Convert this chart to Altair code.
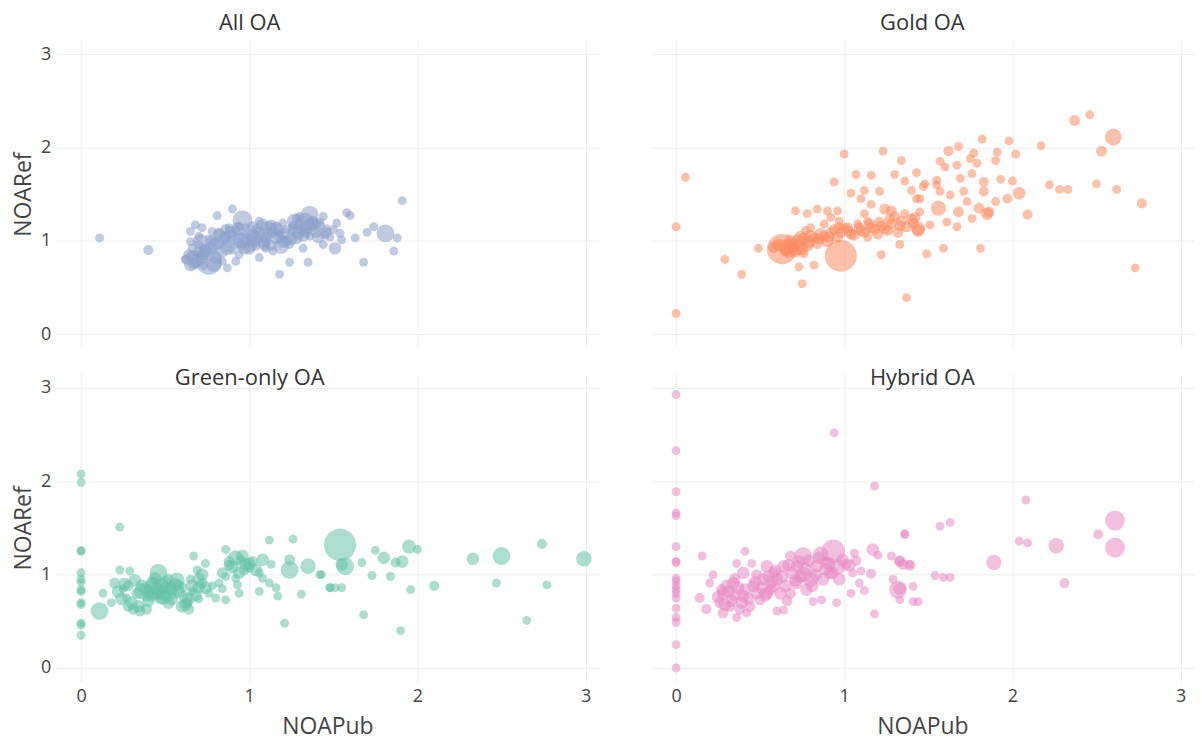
import altair as alt
import pandas as pd

# ---------------- data (NOAPub, NOARef, weight) ----------------
all_x = [0.11, 0.40, 0.81, 0.90, 0.68, 0.72, 0.65, 0.65, 0.64, 0.68, 0.76, 0.87, 0.96, 1.18, 1.24, 1.35, 1.68, 1.86, 1.88, 1.81,
         1.74, 1.70, 1.63, 1.58, 1.60, 1.91, 1.51, 1.55, 1.52, 1.44, 1.36, 1.28, 1.26, 1.32, 1.40, 1.44, 1.32, 1.20, 1.16, 1.08,
         1.02, 1.08, 1.14, 1.06, 1.00, 0.94, 0.88, 0.82, 0.88, 0.79, 0.74, 0.70, 0.72, 0.80, 0.92, 0.98, 1.20, 1.48, 1.40, 1.24,
         1.12, 0.97, 0.84, 0.66, 0.67, 1.06, 1.16, 1.28, 1.34, 1.46, 1.33, 0.86, 0.92, 0.95, 1.04, 1.10, 1.13, 1.18, 1.22, 1.30,
         1.36, 1.38, 1.42, 1.45, 0.78, 0.76, 0.70, 0.90, 1.00, 1.04, 1.10, 0.84, 0.73, 0.69, 0.62, 1.50, 1.54, 1.30, 1.26, 1.02,
         0.94,
         0.63, 0.66, 0.70, 0.74, 0.78, 0.82, 0.86, 0.90, 0.94, 0.98, 1.02, 1.06, 1.10, 1.14, 1.18, 1.22, 1.26, 1.30, 1.34, 1.38,
         1.42, 1.46, 0.65, 0.69, 0.73, 0.77, 0.81, 0.85, 0.89, 0.93, 0.97, 1.01, 1.05, 1.09, 1.13, 1.17, 1.21, 1.25, 1.29, 1.33,
         1.37, 1.41, 0.71, 0.79, 0.87, 0.95, 1.03, 1.11, 1.19, 1.27]
all_y = [1.03, 0.90, 1.27, 1.34, 1.17, 1.14, 1.10, 0.99, 0.85, 0.76, 0.78, 0.71, 1.22, 0.64, 0.77, 0.77, 0.77, 0.89, 1.03, 1.08,
         1.15, 1.09, 1.03, 1.30, 1.27, 1.43, 0.92, 1.01, 1.19, 1.26, 1.28, 1.24, 1.10, 1.06, 1.10, 0.96, 0.92, 0.99, 1.14, 1.17,
         1.06, 0.99, 0.89, 0.82, 0.92, 0.85, 0.99, 1.06, 1.14, 0.96, 0.89, 0.96, 0.82, 0.82, 0.78, 1.14, 1.19, 1.04, 1.19, 0.96,
         1.08, 1.03, 0.89, 0.92, 0.76, 1.21, 1.03, 1.03, 1.15, 1.13, 1.20, 1.05, 1.10, 0.95, 1.12, 1.04, 0.95, 1.08, 1.12, 1.12,
         1.05, 1.14, 1.20, 1.06, 1.10, 1.02, 1.05, 0.90, 0.98, 0.94, 0.92, 0.78, 0.73, 0.86, 0.80, 1.12, 1.08, 1.26, 1.17, 1.00,
         1.16,
         0.80, 0.84, 0.88, 0.92, 1.00, 1.08, 1.12, 1.06, 0.98, 1.07, 1.15, 1.10, 1.00, 1.10, 1.04, 1.00, 1.14, 1.18, 1.09, 1.21,
         1.16, 1.09, 0.74, 0.79, 0.86, 0.92, 0.97, 1.02, 1.09, 1.13, 0.92, 0.95, 1.04, 0.96, 1.16, 1.12, 1.07, 1.02, 1.08, 1.12,
         1.18, 1.04, 0.99, 0.75, 0.93, 1.00, 1.02, 1.13, 0.94, 1.21]
all_w = [1, 1.3, 1, 1, 1, 1, 1, 1, 1.5, 1.5, 9, 1, 5, 1, 1, 1, 1, 1, 1, 4,
         1, 1, 1, 1, 1, 1, 2, 1, 1, 1, 4, 1, 1, 2, 2, 1, 1, 2, 2, 2,
         2, 2, 1, 1, 2, 1, 2, 2, 1, 2, 2, 1, 2, 2, 1, 1, 1, 1, 1, 1,
         2, 2, 2, 1, 2, 1, 2, 2, 2, 1, 4.5, 1.5, 1.5, 1.5, 1.5, 1.5, 1.5, 1, 1, 1,
         1, 1, 1, 1, 1, 1, 1, 1, 1, 1, 1, 1, 1, 1, 1, 1, 1, 1, 1, 1,
         1,
         1.5, 1.5, 1.5, 1.5, 1.5, 1.5, 1.5, 1.5, 1.5, 1.5, 1.5, 1.5, 1.5, 1.5, 1.5, 1.5, 1.5, 1.5, 1.5, 1.5,
         1.5, 1.5, 2, 2, 2, 2, 2, 2, 2, 2, 2, 2, 2, 2, 2, 2, 2, 2, 2, 2,
         2, 2, 3, 3, 3, 3, 3, 3, 3, 3]

gold_x = [0.056, 0.0, 0.0, 0.29, 0.39, 0.49, 0.63, 0.98, 0.75, 0.73, 0.82, 0.71, 0.78, 0.84, 0.90, 0.96, 0.94, 1.00, 1.07, 1.16,
          1.04, 1.10, 1.12, 1.21, 1.23, 1.34, 1.30, 1.36, 1.43, 1.48, 1.40, 1.45, 1.24, 1.12, 1.16, 1.28, 1.36, 1.42, 1.33, 1.22,
          1.37, 1.44, 0.68, 0.74, 0.80, 0.86, 0.92, 0.98, 1.04, 1.10, 1.16, 1.22, 1.28, 1.34, 1.40, 0.66, 0.72, 0.78, 0.84, 0.90,
          0.96, 1.02, 1.08, 1.14, 1.20, 1.26, 1.32, 1.14, 0.88, 0.80, 0.97, 0.92, 0.58, 0.60, 0.76, 0.77, 2.37, 2.46, 2.60, 2.53,
          2.17, 1.98, 2.02, 1.82, 1.68, 1.62, 1.77, 1.75, 1.91, 1.90, 1.57, 1.60, 1.67, 1.79, 2.22, 2.28, 2.33, 2.50, 2.62, 2.77,
          2.73, 2.09, 2.04, 2.00, 1.97, 1.93, 1.83, 1.83, 1.85, 1.90, 1.76, 1.69, 1.55, 1.47, 1.57, 1.63, 1.71, 1.73, 1.56, 1.68,
          1.76, 1.67, 1.61, 1.51, 1.44, 1.49, 1.59, 1.81, 1.80, 1.86, 1.45, 1.43, 1.55,
          0.62, 0.65, 0.69, 0.70, 0.73, 0.76, 0.79, 0.82, 0.85, 0.88, 0.91, 0.94, 0.97, 1.00, 1.03, 1.06, 1.09, 1.12, 1.15, 1.18,
          1.21, 1.24, 1.27, 1.30, 1.33, 1.37, 1.41, 0.67, 0.71, 0.75]
gold_y = [1.68, 1.15, 0.22, 0.80, 0.64, 0.92, 0.91, 0.84, 0.54, 0.72, 0.74, 1.32, 1.29, 1.34, 1.32, 1.32, 1.63, 1.93, 1.71, 1.70,
          1.51, 1.45, 1.54, 1.53, 1.96, 1.86, 1.71, 1.64, 1.73, 1.61, 1.54, 1.45, 1.34, 1.29, 1.39, 1.32, 1.29, 1.25, 0.96, 0.85,
          0.39, 1.13, 1.00, 1.04, 1.05, 1.07, 1.09, 1.09, 1.07, 1.11, 1.14, 1.16, 1.18, 1.21, 1.23, 0.93, 0.93, 0.96, 0.98, 1.00,
          1.04, 1.14, 1.18, 1.04, 1.07, 1.11, 1.09, 1.21, 1.18, 1.14, 1.21, 1.25, 0.93, 0.96, 0.86, 1.11, 2.29, 2.35, 2.11, 1.96,
          2.02, 2.07, 1.93, 2.09, 2.01, 1.96, 1.94, 1.88, 1.95, 1.86, 1.85, 1.79, 1.81, 1.83, 1.60, 1.55, 1.55, 1.61, 1.55, 1.40,
          0.71, 1.28, 1.51, 1.64, 1.45, 1.66, 1.63, 1.53, 1.29, 1.42, 1.72, 1.67, 1.65, 1.58, 1.53, 1.49, 1.53, 1.42, 1.35, 1.31,
          1.24, 1.15, 1.20, 1.17, 1.11, 0.86, 0.92, 0.92, 1.35, 1.31, 1.31, 1.45, 1.60,
          0.95, 0.90, 0.97, 0.92, 1.00, 1.02, 0.99, 1.03, 1.02, 1.05, 1.04, 1.12, 1.14, 1.13, 1.10, 1.06, 1.14, 1.09, 1.18, 1.12,
          1.20, 1.13, 1.23, 1.26, 1.16, 1.15, 1.19, 0.88, 0.89, 0.91]
gold_w = [1, 1, 1, 1, 1, 1, 11.5, 13, 1, 1, 1, 1, 1, 1, 1, 1, 1, 1, 1, 1,
          1, 1, 1, 1, 1, 1, 1, 1, 1, 1, 1, 1, 1.5, 1, 1, 1.5, 1, 1.5, 1, 1,
          1, 2.5, 2, 2, 2, 2, 1.5, 1.5, 1.5, 1.5, 1.5, 1.5, 1.5, 1.5, 1.5, 3, 3, 2.5, 2, 2,
          1.5, 1.5, 1, 1, 1.5, 1.5, 1.5, 1, 1, 1, 1, 1, 1.5, 1.5, 1, 1, 1.5, 1, 3.5, 1.5,
          1, 1, 1, 1, 1, 1.3, 1, 1, 1, 1, 1, 1, 1, 1, 1, 1, 1, 1, 1, 1.3,
          1, 1.3, 2, 1, 1.3, 1, 1.3, 1.3, 2, 1, 1, 1, 1, 1, 1, 1, 1, 1, 3, 1.5,
          1, 1, 1, 1, 2, 1, 1, 1, 1.5, 1.5, 1, 1, 1,
          2, 2, 2, 2, 2, 2, 2, 1.5, 1.5, 1.5, 1.5, 1.5, 1.5, 1.5, 1.5, 1.5, 1.5, 1.5, 1.5, 1.5,
          1.5, 1.5, 1.5, 1.5, 1.5, 1.5, 1.5, 2, 2, 2]

green_x = [0, 0, 0, 0, 0, 0, 0, 0, 0, 0, 0, 0, 0, 0,
           0.23, 0.11, 0.13, 0.18, 0.20, 0.23, 0.29, 0.28, 0.31, 0.35, 0.39, 0.39, 0.36, 0.42, 0.46, 0.48, 0.44, 0.50, 0.54, 0.52,
           0.58, 0.61, 0.64, 0.63, 0.67, 0.69, 0.74, 0.72, 0.76, 0.80, 0.86, 0.82, 0.86, 0.86, 0.88, 0.92, 0.98, 1.02, 1.06, 1.08,
           1.12, 1.13, 1.12, 1.16, 1.17, 1.06, 0.93, 0.94, 0.92, 1.26, 1.24, 1.24, 1.35, 1.42, 1.31, 1.21, 1.48, 0.45, 0.40, 0.50,
           0.55, 0.47, 0.33, 0.27, 0.25, 0.60, 0.66, 0.70, 0.78, 0.84, 0.65, 0.97, 1.00, 0.95, 1.54, 1.55, 1.57, 1.43, 1.48, 1.51,
           1.55, 1.67, 1.73, 1.75, 1.80, 1.84, 1.87, 1.91, 1.95, 2.00, 1.96, 2.10, 1.68, 1.90, 2.33, 2.50, 2.74, 2.47, 2.77, 2.65,
           2.99,
           0.22, 0.26, 0.30, 0.34, 0.38, 0.42, 0.46, 0.50, 0.54, 0.58, 0.62, 0.66, 0.70, 0.74, 0.24, 0.32, 0.40, 0.44, 0.48, 0.52,
           0.56, 0.60, 0.68, 0.72, 0.36, 0.43, 0.49, 0.57, 0.90, 0.94, 0.96, 1.00, 1.04, 1.08, 0.84, 0.88, 0.64, 0.70, 0.28, 0.53]
green_y = [2.08, 1.99, 1.26, 1.25, 1.02, 0.95, 0.92, 0.84, 0.82, 0.70, 0.68, 0.48, 0.46, 0.35,
           1.51, 0.61, 0.80, 0.70, 0.91, 1.05, 1.04, 0.88, 0.63, 0.61, 0.63, 0.77, 0.88, 0.91, 1.02, 0.88, 0.80, 0.77, 0.84, 0.95,
           0.89, 0.77, 0.63, 0.70, 1.20, 1.05, 1.12, 0.91, 0.80, 0.75, 0.73, 0.91, 0.98, 1.27, 1.14, 1.18, 1.11, 1.14, 1.02, 0.96,
           1.37, 1.11, 0.91, 0.86, 0.77, 0.82, 0.89, 0.80, 0.96, 1.38, 1.16, 1.05, 1.09, 1.00, 0.79, 0.48, 0.86, 0.85, 0.82, 0.86,
           0.80, 0.74, 0.80, 0.75, 0.85, 0.86, 0.82, 0.74, 0.88, 0.85, 0.95, 1.05, 1.08, 1.15, 1.32, 1.11, 1.09, 1.00, 0.86, 0.86,
           0.86, 1.13, 0.99, 1.26, 1.18, 0.98, 1.13, 1.14, 1.30, 1.27, 0.84, 0.88, 0.57, 0.40, 1.17, 1.20, 1.33, 0.91, 0.89, 0.51,
           1.17,
           0.82, 0.90, 0.70, 0.66, 0.85, 0.78, 0.80, 0.92, 0.74, 0.82, 0.68, 0.88, 0.95, 0.86, 0.74, 0.94, 0.72, 0.96, 0.82, 0.70,
           0.90, 0.66, 0.78, 1.00, 0.82, 0.88, 0.76, 0.94, 1.08, 1.02, 1.20, 1.12, 1.05, 1.16, 1.02, 1.10, 0.74, 0.86, 0.66, 0.86]
green_w = [1, 1, 1, 1, 1, 1, 1, 1, 1, 1, 1, 1, 1, 1,
           1, 4, 1, 1, 1.5, 1, 1, 1.5, 1.5, 1.5, 1.5, 1.5, 2, 2, 4, 3, 2, 2, 2, 1.5,
           1.5, 1.5, 1.5, 1.5, 1, 1, 1, 1.5, 1, 1, 1, 1, 1, 1, 1.5, 3, 2, 1.5, 1, 1,
           1, 1, 1, 1, 1, 1, 1, 1, 1, 1, 1.5, 4, 3, 1, 1, 1, 1, 2, 2, 2,
           1.5, 1.5, 1.5, 1, 1, 1.5, 1, 1, 1, 1, 1, 1.5, 1.5, 1.5, 13, 2, 4, 1, 1, 1,
           1, 1, 1, 1, 2, 1, 1.3, 2, 2.5, 1, 1, 1.3, 1, 1, 2, 4, 1.3, 1, 1, 1,
           3,
           2, 2, 2, 2, 2, 2, 2, 2, 2, 2, 2, 2, 2, 2, 2, 2, 2, 2, 2, 2,
           2, 2, 2, 2, 3, 3, 3, 3, 2, 2, 2, 2, 2, 2, 1.5, 1.5, 2, 2, 1.5, 2]

hyb_x = [0, 0, 0, 0, 0, 0, 0, 0, 0, 0, 0, 0, 0, 0, 0, 0, 0, 0, 0,
         0.94, 1.18, 1.36, 0.155, 0.41, 0.14, 0.18, 0.20, 0.22, 0.28, 0.28, 0.36, 0.36, 0.34, 0.40, 0.40, 0.46, 0.45, 0.52, 0.54,
         0.50, 0.58, 0.60, 0.64, 0.68, 0.68, 0.64, 0.72, 0.755, 0.80, 0.815, 0.865, 0.835, 0.915, 0.935, 0.895, 0.955, 1.01, 1.06, 1.05,
         1.04, 1.09, 1.12, 1.10, 1.16, 1.17, 1.20, 1.18, 1.28, 1.32, 1.33, 1.35, 1.39, 1.41, 1.33, 1.29, 0.58, 0.48, 0.30, 0.26,
         0.32, 0.38, 0.42, 0.48, 0.54, 0.60, 0.62, 0.74, 0.875, 0.97, 0.775, 0.715, 2.08, 1.57, 1.63, 1.36, 2.04, 2.09, 2.26, 1.89,
         2.51, 2.61, 2.61, 2.31, 1.54, 1.59, 1.63, 1.33, 1.41, 1.44, 1.33, 1.39,
         0.25, 0.29, 0.31, 0.33, 0.35, 0.37, 0.39, 0.41, 0.43, 0.47, 0.51, 0.53, 0.55, 0.57, 0.59, 0.63, 0.65, 0.67, 0.69, 0.71,
         0.73, 0.77, 0.79, 0.81, 0.83, 0.85, 0.89, 0.91, 0.93, 0.99, 1.03, 0.27, 0.35, 0.44, 0.56, 0.66, 0.76, 0.86, 0.96, 1.07]
hyb_y = [2.93, 2.33, 1.89, 1.66, 1.63, 1.30, 1.14, 1.13, 0.96, 0.93, 0.88, 0.84, 0.80, 0.75, 0.64, 0.54, 0.49, 0.25, 0.0,
         2.52, 1.95, 1.44, 1.20, 1.25, 0.75, 0.63, 0.91, 1.00, 0.80, 0.59, 1.12, 0.54, 0.91, 1.02, 0.77, 0.88, 1.12, 0.95, 1.09,
         0.73, 0.88, 0.61, 0.62, 0.80, 1.20, 1.09, 1.09, 1.20, 0.95, 0.71, 0.73, 1.09, 1.02, 1.25, 1.13, 0.70, 1.11, 1.23, 1.02,
         0.80, 0.91, 0.83, 1.04, 1.01, 1.27, 1.21, 0.58, 1.20, 0.84, 1.14, 1.11, 1.11, 0.71, 0.73, 0.95, 1.02, 1.00, 0.88, 0.70,
         0.66, 0.63, 0.59, 0.80, 0.80, 0.95, 0.80, 0.98, 0.95, 0.95, 0.84, 0.91, 1.80, 1.52, 1.56, 1.43, 1.36, 1.34, 1.31, 1.13,
         1.43, 1.58, 1.29, 0.91, 0.99, 0.97, 0.97, 0.85, 0.875, 0.71, 1.15, 1.10,
         0.76, 0.68, 0.82, 0.72, 0.78, 0.86, 0.70, 0.84, 0.74, 0.92, 0.86, 0.78, 0.98, 0.92, 1.04, 0.98, 0.88, 1.10, 1.02, 0.94,
         1.14, 1.06, 1.15, 0.88, 1.00, 1.18, 1.06, 1.12, 1.02, 1.16, 1.10, 0.84, 0.96, 0.66, 0.84, 0.72, 1.00, 1.22, 1.08, 1.15]
hyb_w = [1, 1, 1, 1, 1, 1, 1, 1, 1, 1, 1, 1, 1, 1, 1, 1, 1, 1, 1,
         1, 1, 1, 1, 1, 1.3, 1.3, 1, 1, 2, 1.5, 1, 1, 2, 2, 2, 2, 1, 2, 2,
         1.5, 2, 1, 1, 1.5, 1.5, 2, 2, 4, 3, 1, 1, 2, 2, 7, 2, 1, 1.5, 1, 1,
         1, 1, 1, 1, 1.3, 2, 1, 1, 1, 4, 1.5, 1.5, 1, 1, 1, 1, 1.5, 1.5, 2, 1.5,
         1.5, 1.5, 1, 2, 2, 2, 2, 2, 2, 2, 2, 2, 1, 1, 1, 1, 1, 1, 3, 3,
         1.3, 5, 5, 1.3, 1, 1, 1, 2, 1, 1, 1.5, 1.5,
         2, 2, 2, 2, 2, 2, 2, 2, 2, 2, 2, 2, 2, 2, 2, 2, 2, 2, 2, 2,
         2, 2, 2, 2, 2, 2, 2, 2, 2, 2, 2, 1.5, 1.5, 1.5, 1.5, 1.5, 3, 3, 3, 1.5]

panels = [
    ("All OA", all_x, all_y, all_w, "#8da0cb"),
    ("Gold OA", gold_x, gold_y, gold_w, "#fc8d62"),
    ("Green-only OA", green_x, green_y, green_w, "#66c2a5"),
    ("Hybrid OA", hyb_x, hyb_y, hyb_w, "#e78ac3"),
]

FONT = "Open Sans"
W, H = 545, 309


def panel(i):
    name, xs, ys, ws, color = panels[i]
    df = pd.DataFrame({"NOAPub": xs, "NOARef": ys, "w": ws})
    left = i % 2 == 0
    bottom = i >= 2
    xax = dict(values=[0, 1, 2, 3], grid=True, domain=False, ticks=False, labels=bottom)
    if bottom:
        xax.update(title="NOAPub", labelPadding=6, titlePadding=10)
    else:
        xax.update(title=None)
    yax = dict(values=[0, 1, 2, 3], grid=True, domain=False, ticks=False, labels=left)
    if left:
        yax.update(title="NOARef", labelPadding=5, titlePadding=5)
    else:
        yax.update(title=None)
    tdx = -78 if left else 0
    tdy = 21 if bottom else 0
    return (
        alt.Chart(df)
        .mark_circle(opacity=0.55, color=color)
        .encode(
            x=alt.X("NOAPub:Q", scale=alt.Scale(domain=[-0.15, 3.08], nice=False, zero=False), axis=alt.Axis(**xax)),
            y=alt.Y("NOARef:Q", scale=alt.Scale(domain=[-0.15, 3.15], nice=False, zero=False), axis=alt.Axis(**yax)),
            size=alt.Size("w:Q", scale=alt.Scale(domain=[0, 20], range=[0, 1600]), legend=None),
        )
        .properties(
            width=W,
            height=H,
            title=alt.TitleParams(name, fontSize=22, font=FONT, fontWeight="normal", color="#333333",
                                  anchor="middle", dx=tdx, dy=tdy, offset=5),
        )
    )


top = alt.hconcat(panel(0), panel(1), spacing=52)
bot = alt.hconcat(panel(2), panel(3), spacing=52)
chart = (
    alt.vconcat(top, bot, spacing=19)
    .properties(padding={"left": 4, "top": 3, "right": 0, "bottom": 2})
    .configure_view(stroke=None)
    .configure_axis(
        gridColor="#eeeeee",
        labelFont=FONT,
        labelFontSize=18,
        labelColor="#444444",
        titleFont=FONT,
        titleFontSize=23,
        titleFontWeight="normal",
        titleColor="#444444",
    )
)

chart.save("out.html", embed_options={"renderer": "svg", "actions": False})
